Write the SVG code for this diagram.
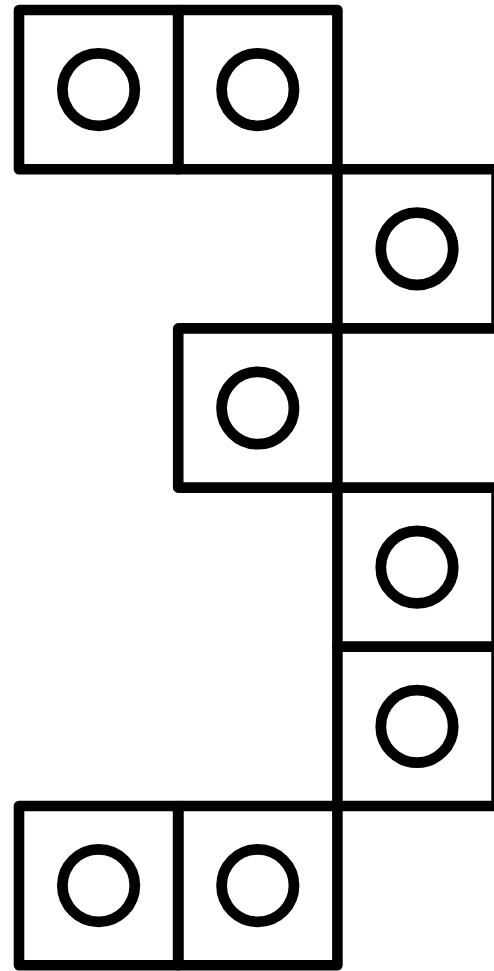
<svg xmlns="http://www.w3.org/2000/svg" width="494" height="971" viewBox="0 0 494 971">
  <style>
    .cell rect { fill: none; stroke: #000; stroke-width: 10.6; stroke-linejoin: round; }
    .cell circle { fill: none; stroke: #000; stroke-width: 10.8; }
  </style>
  <rect x="0" y="0" width="494" height="971" fill="#fff"/>
  <g id="cell-0-0" class="cell"><rect x="19" y="10" width="159.2" height="159.2"/><circle cx="98.6" cy="89.6" r="36.2"/></g>
  <g id="cell-1-0" class="cell"><rect x="178.2" y="10" width="159.2" height="159.2"/><circle cx="257.8" cy="89.6" r="36.2"/></g>
  <g id="cell-2-1" class="cell"><rect x="337.4" y="169.2" width="159.2" height="159.2"/><circle cx="417" cy="248.8" r="36.2"/></g>
  <g id="cell-1-2" class="cell"><rect x="178.2" y="328.4" width="159.2" height="159.2"/><circle cx="257.8" cy="408" r="36.2"/></g>
  <g id="cell-2-3" class="cell"><rect x="337.4" y="487.6" width="159.2" height="159.2"/><circle cx="417" cy="567.2" r="36.2"/></g>
  <g id="cell-2-4" class="cell"><rect x="337.4" y="646.8" width="159.2" height="159.2"/><circle cx="417" cy="726.4" r="36.2"/></g>
  <g id="cell-0-5" class="cell"><rect x="19" y="806" width="159.2" height="159.2"/><circle cx="98.6" cy="885.6" r="36.2"/></g>
  <g id="cell-1-5" class="cell"><rect x="178.2" y="806" width="159.2" height="159.2"/><circle cx="257.8" cy="885.6" r="36.2"/></g>
  <g id="connectors"></g>
</svg>
